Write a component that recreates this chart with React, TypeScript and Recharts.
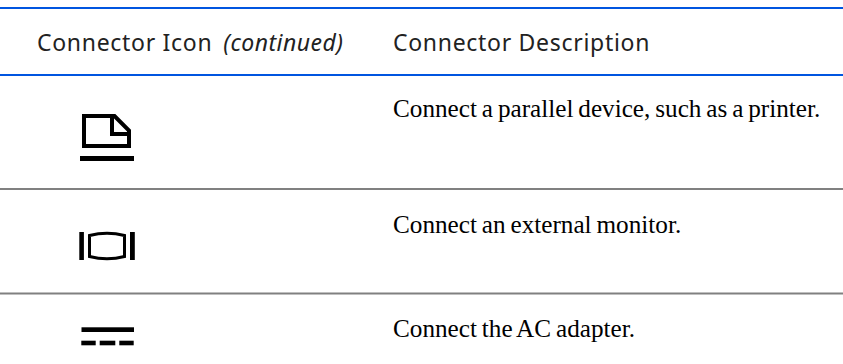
import React from "react";
import { ComposedChart, XAxis, YAxis, Scatter, ReferenceLine } from "recharts";

const W = 843;
const H = 364;

const headerLabels = ["Connector Icon", "Connector Description"];
const headerNote = "(continued)";
const descriptions = [
  "Connect a parallel device, such as a printer.",
  "Connect an external monitor.",
  "Connect the AC adapter.",
];
const iconKinds = ["parallel", "monitor", "power"];

const accentRules = [8, 75];
const rowRules = [189, 293.5];
const headerColumns = [37, 393];
const headerBaseline = 51;
const descColumn = 393;
const descBaselines = [117, 233, 337];
const iconColumn = 107;
const iconRows = [135, 246, 336];

const headerData = headerLabels.map((label, i) => ({
  x: headerColumns[i],
  y: headerBaseline,
  label,
  note: i === 0 ? headerNote : "",
}));
const descData = descriptions.map((label, i) => ({ x: descColumn, y: descBaselines[i], label }));
const iconData = iconKinds.map((kind, i) => ({ x: iconColumn, y: iconRows[i], kind }));

const HeaderText = (p: any) => (
  <text
    x={p.cx}
    y={p.cy}
    fontFamily="'Noto Sans', sans-serif"
    fontSize={23}
    letterSpacing={0.7}
    fill="#222"
  >
    {p.payload.label}
    {p.payload.note ? (
      <tspan fontStyle="italic" letterSpacing={0.45} dx={11}>
        {p.payload.note}
      </tspan>
    ) : null}
  </text>
);

const DescText = (p: any) => (
  <text
    x={p.cx}
    y={p.cy}
    fontFamily="'Liberation Serif', serif"
    fontSize={25.2}
    wordSpacing={-1.4}
    fill="#000"
  >
    {p.payload.label}
  </text>
);

const Icon = (p: any) => {
  const { cx, cy } = p;
  const kind = p.payload.kind;
  if (kind === "parallel") {
    return (
      <g transform={`translate(${cx},${cy})`}>
        <path
          d="M-23,-19 H7.5 L22,-4.5 V11 H-23 Z M5,-19 V-1 H22"
          fill="none"
          stroke="#000"
          strokeWidth={4}
        />
        <rect x={-27} y={21} width={54} height={5} fill="#000" />
      </g>
    );
  }
  if (kind === "monitor") {
    return (
      <g transform={`translate(${cx},${cy})`}>
        <rect x={-27.7} y={-14} width={4.6} height={28} fill="#000" />
        <rect x={23} y={-14} width={4.8} height={28} fill="#000" />
        <path
          d="M-17.5,-10.5 Q0,-15 17.5,-10.5 V10.5 Q0,15 -17.5,10.5 Z"
          fill="none"
          stroke="#000"
          strokeWidth={3}
        />
      </g>
    );
  }
  return (
    <g transform={`translate(${cx},${cy})`}>
      <rect x={-25.5} y={-8.7} width={52.5} height={4.7} fill="#000" />
      <rect x={-25.7} y={4.7} width={14.4} height={4.6} fill="#000" />
      <rect x={-7.3} y={4.7} width={15.6} height={4.6} fill="#000" />
      <rect x={12.3} y={4.7} width={14.4} height={4.6} fill="#000" />
    </g>
  );
};

export default function App() {
  return (
    <div style={{ position: "absolute", left: 0, top: 0, width: W, height: H, background: "#fff" }}>
      <ComposedChart width={W} height={H} margin={{ top: 0, right: 0, bottom: 0, left: 0 }}>
        <XAxis type="number" dataKey="x" domain={[0, W]} hide />
        <YAxis type="number" dataKey="y" domain={[0, H]} reversed hide />
        {accentRules.map((y) => (
          <ReferenceLine key={y} y={y} segment={[{ x: 10, y }, { x: W, y }]} stroke="#0055e0" strokeWidth={2} />
        ))}
        {rowRules.map((y) => (
          <ReferenceLine key={y} y={y} segment={[{ x: 10, y }, { x: W, y }]} stroke="#808080" strokeWidth={2} />
        ))}
        <Scatter data={headerData} shape={HeaderText} isAnimationActive={false} />
        <Scatter data={descData} shape={DescText} isAnimationActive={false} />
        <Scatter data={iconData} shape={Icon} isAnimationActive={false} />
      </ComposedChart>
    </div>
  );
}
